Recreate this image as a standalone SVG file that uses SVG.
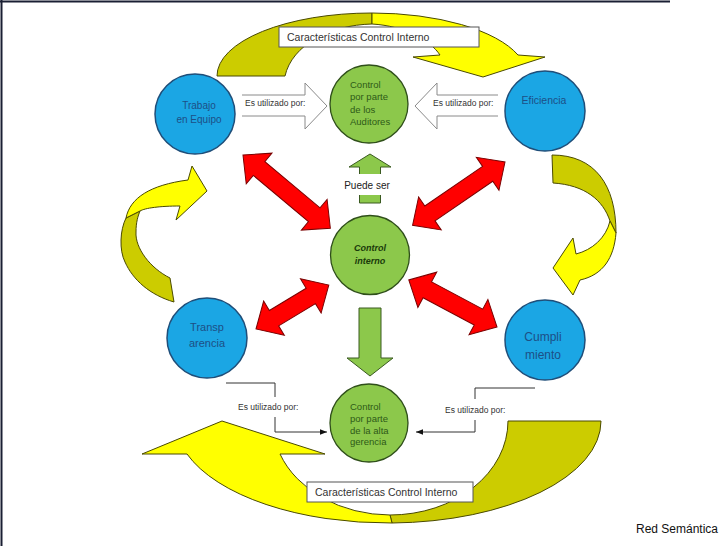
<svg xmlns="http://www.w3.org/2000/svg" width="728" height="546" viewBox="0 0 728 546">
<defs>
<style>
.blue{fill:#1ba6e4;stroke:#1f4e79;stroke-width:1.5}
.green{fill:#8cc84b;stroke:#2f4f1a;stroke-width:1.3}
.btxt{font-family:"Liberation Sans",Arial,sans-serif;fill:#1d4f86;text-anchor:middle}
.gtxt{font-family:"Liberation Sans",Arial,sans-serif;fill:#2e5a18;font-size:9.5px}
.red{fill:#ff0000;stroke:#7a0000;stroke-width:1}
.yel{fill:#ffff00;stroke:#4a4a00;stroke-width:1}
.olive{fill:#cccc00;stroke:#4a4a00;stroke-width:1}
.garrow{fill:#8cc84b;stroke:#3a5a20;stroke-width:1}
.hollow{fill:none;stroke:#8a8a8a;stroke-width:1}
.lbl{font-family:"Liberation Sans",Arial,sans-serif;fill:#333;font-size:8.5px}
.box{fill:#fff;stroke:#555;stroke-width:1}
.boxtxt{font-family:"Liberation Sans",Arial,sans-serif;fill:#333;font-size:10.5px}
.line{fill:none;stroke:#333;stroke-width:1}
</style>
<marker id="ah" viewBox="0 0 10 10" refX="10" refY="5" markerWidth="7" markerHeight="7" markerUnits="userSpaceOnUse" orient="auto"><path d="M0,1 L10,5 L0,9 z" fill="#111"/></marker>
</defs>
<rect width="728" height="546" fill="#fff"/>
<path d="M0,1.5 H670 M1.5,0 V546" stroke="#1a1f33" stroke-width="2" fill="none"/>

<g id="connectors">
  <!-- top curved arrow -->
  <path class="olive" d="M217,76 A155,63 0 0 1 372,13 L372,24 C330,25 292,45 285,76 Z"/>
  <path class="yel" d="M372,13 A155,63 0 0 1 518,55 L545,57 L483,77 L413,57 L440,55 C430,40 405,26 372,24 Z"/>
  <g id="lbl-top"><rect class="box" x="279" y="27" width="200" height="20"/>
  <text class="boxtxt" x="287" y="41">Características Control Interno</text></g>

  <!-- bottom curved arrow -->
  <path class="olive" d="M508,421 L601,421 A213,102 0 0 1 392,523 L390,515 A118,94 0 0 0 508,421 Z"/>
  <path class="yel" d="M280,454 L325,454 L222,421 L142,454 L187,454 A213,102 0 0 0 392,523 L390,515 A118,94 0 0 1 280,454 Z"/>
  <g id="lbl-bottom"><rect class="box" x="307" y="482" width="166" height="20"/>
  <text class="boxtxt" x="315" y="496">Características Control Interno</text></g>

  <!-- left curved arrow -->
  <path class="olive" d="M126,218 C120,230 119,250 125,262 C133,280 150,295 174,302 L170,278 C150,268 135,248 136,232 C136,222 138,216 140,211 Z"/>
  <path class="yel" d="M126,218 C130,198 150,185 188,180 L192,166 L207,191 L176,220 L180,206 C160,206 145,208 140,211 Z"/>

  <!-- right curved arrow -->
  <path class="olive" d="M552,155 C595,155 616,185 616,233 L610,221 C603,200 585,185 553,183 Z"/>
  <path class="yel" d="M610,221 L616,233 C614,258 603,275 580,280 L573,295 L553,268 L573,238 L576,254 C592,250 606,238 610,221 Z"/>

  <!-- hollow arrows -->
  <polygon points="242,95 305,95 305,83 327,106 305,129 305,116 242,116" fill="#fff"/>
  <path class="hollow" d="M242,95 H305 V83 L327,106 L305,129 V116 H242"/>
  <text class="lbl" x="245" y="106">Es utilizado por:</text>
  <polygon points="498,95 437,95 437,83 415,106 437,129 437,116 498,116" fill="#fff"/>
  <path class="hollow" d="M498,95 H437 V83 L415,106 L437,129 V116 H498"/>
  <text class="lbl" x="433" y="106">Es utilizado por:</text>

  <!-- red double arrows -->
  <polygon class="red" transform="translate(243,155) rotate(40)" points="0,0 21,-20 21,-9 93,-9 93,-20 114,0 93,20 93,9 21,9 21,20"/>
  <polygon class="red" transform="translate(505,162) rotate(145.6)" points="0,0 21,-20 21,-9 91,-9 91,-20 112,0 91,20 91,9 21,9 21,20"/>
  <polygon class="red" transform="translate(256,329) rotate(-31.1)" points="0,0 21,-20 21,-9 64,-9 64,-20 85,0 64,20 64,9 21,9 21,20"/>
  <polygon class="red" transform="translate(497,327) rotate(-151.9)" points="0,0 21,-20 21,-9 79,-9 79,-20 100,0 79,20 79,9 21,9 21,20"/>

  <!-- green arrows -->
  <polygon class="garrow" points="370,154 391,167 380.5,167 380.5,203 359.5,203 359.5,167 349,167"/>
  <rect x="340" y="174" width="54" height="21" fill="#fff"/>
  <text x="367" y="189" font-family="Liberation Sans, Arial, sans-serif" font-size="10" fill="#222" text-anchor="middle">Puede ser</text>
  <polygon class="garrow" points="359,308 381,308 381,358 393,358 370,376 347,358 359,358"/>

  <!-- thin connectors -->
  <path class="line" d="M226,383 H275 V397"/>
  <path class="line" d="M275,417 V432 H327" marker-end="url(#ah)"/>
  <text class="lbl" x="238" y="410">Es utilizado por:</text>
  <path class="line" d="M535,388 H475 V399"/>
  <path class="line" d="M475,420 V432 H416" marker-end="url(#ah)"/>
  <text class="lbl" x="445" y="413">Es utilizado por:</text>
</g>

<g id="trabajo">
  <circle class="blue" cx="195" cy="114" r="40"/>
  <text class="btxt" x="199" y="109" font-size="10">Trabajo</text>
  <text class="btxt" x="199" y="123" font-size="10">en Equipo</text>
</g>
<g id="eficiencia">
  <circle class="blue" cx="545" cy="111" r="40"/>
  <text class="btxt" x="544" y="104" font-size="10.5">Eficiencia</text>
</g>
<g id="transparencia">
  <circle class="blue" cx="207" cy="338" r="40"/>
  <text class="btxt" x="207" y="331" font-size="11">Transp</text>
  <text class="btxt" x="207" y="347" font-size="11">arencia</text>
</g>
<g id="cumplimiento">
  <circle class="blue" cx="545" cy="340" r="40"/>
  <text class="btxt" x="543" y="341" font-size="12">Cumpli</text>
  <text class="btxt" x="543" y="359" font-size="12">miento</text>
</g>
<g id="auditores">
  <circle class="green" cx="369" cy="104" r="39"/>
  <text class="gtxt" x="350" y="88">Control</text>
  <text class="gtxt" x="350" y="100">por parte</text>
  <text class="gtxt" x="350" y="113">de los</text>
  <text class="gtxt" x="350" y="125">Auditores</text>
</g>
<g id="control-interno">
  <circle class="green" cx="370" cy="255" r="39.5"/>
  <text x="370" y="251" font-family="Liberation Sans, Arial, sans-serif" font-size="9" font-style="italic" font-weight="bold" fill="#1a3a0a" text-anchor="middle">Control</text>
  <text x="370" y="264" font-family="Liberation Sans, Arial, sans-serif" font-size="9" font-style="italic" font-weight="bold" fill="#1a3a0a" text-anchor="middle">interno</text>
</g>
<g id="alta-gerencia">
  <circle class="green" cx="369" cy="423" r="39"/>
  <text class="gtxt" x="350" y="410">Control</text>
  <text class="gtxt" x="350" y="422">por parte</text>
  <text class="gtxt" x="350" y="434">de la alta</text>
  <text class="gtxt" x="350" y="445">gerencia</text>
</g>
<text x="636" y="533" font-family="Liberation Sans, Arial, sans-serif" font-size="12" fill="#111">Red Semántica</text>
</svg>
